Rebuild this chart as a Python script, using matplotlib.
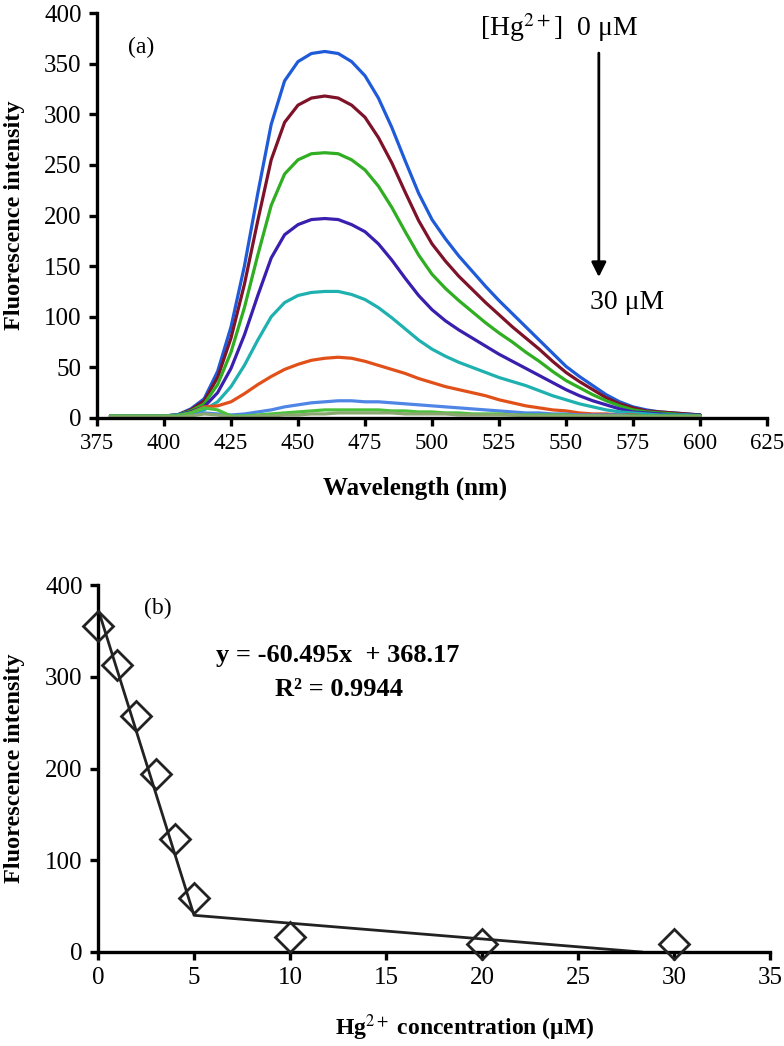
import matplotlib
matplotlib.use("Agg")
import matplotlib.pyplot as plt

plt.rcParams['font.family'] = ['Liberation Serif', 'DejaVu Serif']
plt.rcParams['mathtext.fontset'] = 'stix'

# ---------------- data: panel (a) emission spectra ----------------
wavelength = [380, 385, 390, 395, 400, 405, 410, 415, 420, 425, 430, 435, 440, 445,
              450, 455, 460, 465, 470, 475, 480, 485, 490, 495, 500, 505, 510, 515,
              520, 525, 530, 535, 540, 545, 550, 555, 560, 565, 570, 575, 580, 585,
              590, 595, 600]

hg_0uM = [2, 2, 2, 2, 2, 3, 9, 19, 46, 90, 150, 222, 290, 333, 352, 360, 362, 360, 352, 338,
          316, 287, 254, 222, 196, 177, 160, 145, 130, 116, 103, 90, 77, 64, 51, 41, 32, 23,
          16, 11, 8, 6, 5, 4, 3]
hg_1uM = [2, 2, 2, 2, 2, 3, 8, 17, 40, 79, 132, 195, 255, 292, 309, 316, 318, 316, 309, 297,
          277, 252, 223, 195, 172, 155, 140, 127, 114, 102, 90, 79, 68, 56, 45, 36, 28, 20,
          14, 10, 7, 6, 5, 4, 3]
hg_2uM = [2, 2, 2, 2, 2, 3, 7, 14, 33, 65, 109, 161, 210, 241, 255, 261, 262, 261, 255, 245,
          229, 208, 184, 161, 142, 128, 116, 105, 94, 84, 75, 65, 56, 46, 37, 30, 23, 17,
          12, 8, 6, 5, 4, 3, 3]
hg_3uM = [2, 2, 2, 2, 2, 3, 6, 11, 25, 49, 82, 121, 158, 181, 191, 196, 197, 196, 191, 184,
          172, 156, 138, 121, 107, 96, 87, 79, 71, 63, 56, 49, 42, 35, 28, 22, 17, 13,
          9, 6, 5, 4, 3, 3, 3]
hg_4uM = [2, 2, 2, 2, 2, 3, 5, 8, 16, 31, 52, 77, 100, 114, 121, 124, 125, 125, 122, 117,
          109, 99, 88, 77, 68, 61, 55, 50, 45, 40, 36, 32, 27, 22, 18, 14, 11, 8,
          6, 5, 4, 3, 3, 3, 2]
hg_5uM = [2, 2, 2, 2, 2, 2, 5, 11, 12, 16, 24, 33, 41, 48, 53, 57, 59, 60, 59, 56,
          52, 48, 44, 39, 35, 31, 28, 25, 22, 18, 15, 12, 10, 8, 7, 5, 4, 4,
          3, 3, 2, 2, 2, 2, 2]
hg_10uM = [2, 2, 2, 2, 2, 2, 3, 5, 4, 3, 4, 6, 8, 11, 13, 15, 16, 17, 17, 16,
           16, 15, 14, 13, 12, 11, 10, 9, 8, 7, 6, 5, 5, 4, 4, 3, 3, 3,
           3, 2, 2, 2, 2, 2, 2]
hg_20uM = [2, 2, 2, 2, 2, 2, 5, 10, 8, 2, 2, 3, 4, 5, 6, 7, 8, 8, 8, 8,
           8, 7, 7, 6, 6, 5, 5, 4, 4, 4, 3, 3, 3, 3, 3, 2, 2, 2,
           2, 2, 2, 2, 2, 2, 2]
hg_30uM = [1, 1, 1, 1, 1, 1, 2, 4, 3, 1, 1, 2, 2, 3, 3, 4, 4, 5, 5, 5,
           5, 5, 4, 4, 4, 4, 3, 3, 3, 3, 3, 2, 2, 2, 2, 2, 2, 2,
           2, 1, 1, 1, 1, 1, 1]

spectra = [hg_0uM, hg_1uM, hg_2uM, hg_3uM, hg_4uM, hg_5uM, hg_10uM, hg_20uM, hg_30uM]
spectra_colors = ['#1f5bd8', '#7d1228', '#2fae22', '#3a1fae', '#1fb0b0', '#e2501a',
                  '#4f86e6', '#4cc23c', '#8aa870']

wl_ticks = [375, 400, 425, 450, 475, 500, 525, 550, 575, 600, 625]
int_ticks_a = [0, 50, 100, 150, 200, 250, 300, 350, 400]

# ---------------- data: panel (b) calibration ----------------
conc = [0, 1, 2, 3, 4, 5, 10, 20, 30]
intensity = [355, 313, 257, 194, 123, 59, 16, 9, 9]
fit_x = [0, 5, 28.3]
fit_y = [374, 40, 0]
conc_ticks = [0, 5, 10, 15, 20, 25, 30, 35]
int_ticks_b = [0, 100, 200, 300, 400]

# ---------------- figure ----------------
fig = plt.figure(figsize=(7.84, 10.46), dpi=100)

W, H = 784, 1046
def rect(l, t, r, b):
    return [l / W, 1 - b / H, (r - l) / W, (b - t) / H]

ax1 = fig.add_axes(rect(97, 13, 767, 418))
ax2 = fig.add_axes(rect(98, 585, 770, 952))

def style(ax, fs):
    for s in ['top', 'right']:
        ax.spines[s].set_visible(False)
    for s in ['left', 'bottom']:
        ax.spines[s].set_linewidth(2.4)
        ax.spines[s].set_color('black')
    ax.tick_params(axis='both', direction='out', length=6, width=2.4,
                   labelsize=fs, pad=5, colors='black')

# panel (a)
for ys, c in zip(spectra, spectra_colors):
    ax1.plot(wavelength, ys, color=c, lw=2.3, solid_capstyle='round',
             solid_joinstyle='round')
ax1.set_xlim(375, 625)
ax1.set_ylim(0, 400)
ax1.set_xticks(wl_ticks)
ax1.set_yticks(int_ticks_a)
style(ax1, 18)
ax1.tick_params(axis='x', labelsize=16.5)
ax1.set_xlabel('Wavelength (nm)', fontsize=18, fontweight='bold')
ax1.set_ylabel('Fluorescence intensity', fontsize=17.5, fontweight='bold')
ax1.xaxis.set_label_coords(0.475, -0.145)
ax1.yaxis.set_label_coords(-0.107, 0.5)

ax1.text(0.066, 0.916, '(a)', transform=ax1.transAxes, fontsize=17,
         ha='center', va='center')
ax1.text(0.69, 0.963, '[Hg$^{2+}$]  0 μM', transform=ax1.transAxes, fontsize=20,
         ha='center', va='center')
ax1.annotate('', xy=(0.749, 0.348), xytext=(0.749, 0.901),
             xycoords='axes fraction', textcoords='axes fraction',
             arrowprops=dict(arrowstyle='-|>', lw=2, color='black',
                             mutation_scale=22, shrinkA=0, shrinkB=0))
ax1.text(0.791, 0.284, '30 μM', transform=ax1.transAxes, fontsize=20,
         ha='center', va='center')

# panel (b)
ax2.plot(fit_x, fit_y, color='#222222', lw=2.0, zorder=2)
ax2.plot(conc, intensity, linestyle='none', marker='D', markersize=15,
         markerfacecolor='none', markeredgecolor='#222222', markeredgewidth=2.0,
         zorder=3, clip_on=False)
ax2.set_xlim(0, 35)
ax2.set_ylim(0, 400)
ax2.set_xticks(conc_ticks)
ax2.set_yticks(int_ticks_b)
style(ax2, 18)
ax2.set_xlabel('Hg$^{2+}$ concentration (μM)', fontsize=17, fontweight='bold')
ax2.set_ylabel('Fluorescence intensity', fontsize=17.5, fontweight='bold')
ax2.xaxis.set_label_coords(0.546, -0.165)
ax2.yaxis.set_label_coords(-0.108, 0.5)

ax2.text(0.089, 0.937, '(b)', transform=ax2.transAxes, fontsize=17,
         ha='center', va='center')
ax2.text(0.356, 0.809, 'y = -60.495x  + 368.17', transform=ax2.transAxes,
         fontsize=19, ha='center', va='center', fontweight='bold')
ax2.text(0.359, 0.714, 'R² = 0.9944', transform=ax2.transAxes,
         fontsize=19, ha='center', va='center', fontweight='bold')

fig.savefig('out.png', dpi=100)
